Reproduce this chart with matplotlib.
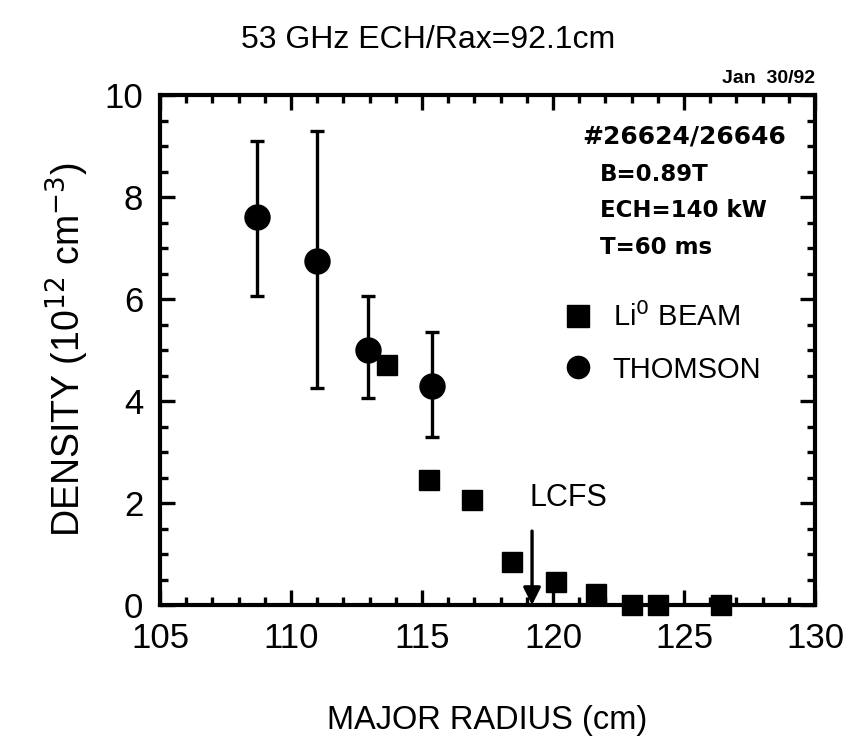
import numpy as np
import matplotlib.pyplot as plt
from matplotlib.lines import Line2D
from matplotlib.ticker import MultipleLocator

plt.rcParams['font.family'] = ['Liberation Sans', 'DejaVu Sans']

# Thomson scattering points (with error bars)
thomson_r = [108.7, 111.0, 112.95, 115.4]
thomson_n = [7.6, 6.75, 5.0, 4.3]
thomson_hi = [9.1, 9.3, 6.05, 5.35]
thomson_lo = [6.05, 4.25, 4.05, 3.3]

# Li0 beam points
li_r = [113.65, 115.25, 116.9, 118.45, 120.1, 121.65, 123.0, 124.0, 126.4]
li_n = [4.7, 2.45, 2.06, 0.84, 0.45, 0.22, 0.0, 0.0, 0.0]

lcfs_r = 119.2

info_lines = ["#26624/26646", "B=0.89T", "ECH=140 kW", "T=60 ms"]

fig = plt.figure(figsize=(8.57, 7.53), dpi=100)
ax = fig.add_axes([0.1867, 0.1965, 0.7643, 0.6773])

t_n = np.array(thomson_n)
yerr = [t_n - np.array(thomson_lo), np.array(thomson_hi) - t_n]
ax.errorbar(thomson_r, thomson_n, yerr=yerr, fmt='o', color='black', ms=18,
            elinewidth=2.4, capsize=5, capthick=2.4, zorder=3, clip_on=False)
ax.plot(li_r, li_n, 's', color='black', ms=15, zorder=4, clip_on=False)

ax.set_xlim(105, 130)
ax.set_ylim(0, 10)
ax.xaxis.set_major_locator(MultipleLocator(5))
ax.xaxis.set_minor_locator(MultipleLocator(1))
ax.yaxis.set_major_locator(MultipleLocator(2))
ax.yaxis.set_minor_locator(MultipleLocator(0.5))
ax.tick_params(which='both', direction='in', top=True, right=True, width=2.4)
ax.tick_params(which='major', length=11, labelsize=25, pad=12)
ax.tick_params(which='minor', length=6)
for s in ax.spines.values():
    s.set_linewidth(3)

ax.set_xlabel('MAJOR RADIUS (cm)', fontsize=23.5, labelpad=36)
ax.set_ylabel('DENSITY (10$^{12}$ cm$^{-3}$)', fontsize=27, labelpad=10)

fig.text(0.5, 0.947, '53 GHz ECH/Rax=92.1cm', ha='center', va='center', fontsize=23)
fig.text(0.951, 0.8964, 'Jan  30/92', ha='right', va='center', fontsize=14, fontweight='bold')

# run info block
ax.text(121.1, 9.18, info_lines[0], ha='left', va='center', fontsize=18,
        fontweight='bold', family='DejaVu Sans')
for i, line in enumerate(info_lines[1:]):
    ax.text(121.8, 8.45 - i * 0.715, line, ha='left', va='center', fontsize=16.5,
            fontweight='bold', family='DejaVu Sans')

# LCFS marker
ax.annotate('', xy=(lcfs_r, 0), xytext=(lcfs_r, 1.45),
            arrowprops=dict(arrowstyle='-|>', color='black', lw=2.4,
                            mutation_scale=26, shrinkA=0, shrinkB=0))
ax.text(120.6, 2.1, 'LCFS', ha='center', va='center', fontsize=22)

handles = [Line2D([], [], marker='s', ls='none', color='black', ms=16),
           Line2D([], [], marker='o', ls='none', color='black', ms=16)]
ax.legend(handles, ['Li$^0$ BEAM', 'THOMSON'], loc='upper left',
          bbox_to_anchor=(0.58, 0.645), frameon=False, fontsize=21,
          handlelength=0.8, handletextpad=0.8, labelspacing=0.8)

fig.savefig('out.png', dpi=100)
